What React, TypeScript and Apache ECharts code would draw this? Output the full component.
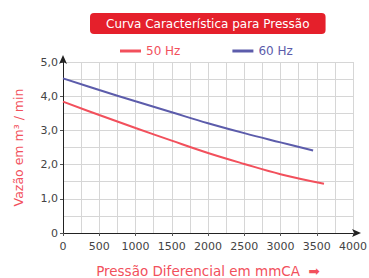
import React, { useEffect, useRef } from "react";
import * as echarts from "echarts";

const hz50X = [0, 500, 1000, 1500, 2000, 2500, 3000, 3600];
const hz50Y = [3.84, 3.45, 3.07, 2.7, 2.34, 2.02, 1.72, 1.44];
const hz60X = [0, 500, 1000, 1500, 2000, 2500, 3000, 3450];
const hz60Y = [4.52, 4.18, 3.85, 3.53, 3.21, 2.92, 2.65, 2.41];
const yTickLabels: Record<string, string> = { "0": "0", "1": "1,0", "2": "2,0", "3": "3,0", "4": "4,0", "5": "5,0" };

const RED = "#f2505c";
const BLUE = "#5c5cab";
const FONT = "DejaVu Sans, Verdana, sans-serif";
const GRID = "#d6d6d6";

export default function App() {
  const ref = useRef<HTMLDivElement>(null);
  useEffect(() => {
    const chart = echarts.init(ref.current!, null, { renderer: "svg" });
    chart.setOption({
      animation: false,
      backgroundColor: "#ffffff",
      textStyle: { fontFamily: FONT },
      title: {
        text: "Curva Característica para Pressão",
        left: 90,
        top: 13,
        backgroundColor: "#e5202b",
        borderRadius: 4,
        padding: [5, 16, 4, 16],
        textStyle: { color: "#ffffff", fontSize: 12, fontWeight: "normal", fontFamily: FONT },
      },
      legend: {
        top: 40,
        left: 115,
        itemGap: 52,
        itemWidth: 21,
        itemHeight: 3,
        icon: "rect",
        textStyle: { fontSize: 12, fontFamily: FONT },
        data: [
          { name: "50 Hz", textStyle: { color: RED } },
          { name: "60 Hz", textStyle: { color: BLUE } },
        ],
      },
      grid: { left: 63, top: 62, width: 290, height: 171, outerBoundsMode: "none", containLabel: false },
      xAxis: {
        type: "value",
        min: 0,
        max: 4000,
        interval: 500,
        name: "Pressão Diferencial em mmCA  ➡",
        nameLocation: "middle",
        nameGap: 31,
        nameTextStyle: { color: RED, fontSize: 13.5, fontFamily: FONT },
        axisLine: { show: true, lineStyle: { color: "#222", width: 1 }, symbol: ["none", "arrow"], symbolSize: [6, 9], symbolOffset: [0, 8] },
        axisTick: { show: true, length: 3, lineStyle: { color: "#555" } },
        axisLabel: { color: "#444", fontSize: 11, margin: 8, formatter: (v: number) => String(v) },
        splitLine: { show: true, lineStyle: { color: GRID, width: 1 } },
        minorTick: { show: false, splitNumber: 2 },
        minorSplitLine: { show: true, lineStyle: { color: GRID, width: 1 } },
      },
      yAxis: {
        type: "value",
        min: 0,
        max: 5,
        interval: 1,
        name: "Vazão em m³ / min",
        nameLocation: "middle",
        nameGap: 38,
        nameTextStyle: { color: RED, fontSize: 12.5, fontFamily: FONT },
        axisLine: { show: true, lineStyle: { color: "#222", width: 1 }, symbol: ["none", "arrow"], symbolSize: [6, 9], symbolOffset: [0, 7] },
        axisTick: { show: true, length: 3, lineStyle: { color: "#555" } },
        axisLabel: { color: "#444", fontSize: 11, margin: 5, formatter: (v: number) => yTickLabels[String(v)] ?? String(v) },
        splitLine: { show: true, lineStyle: { color: GRID, width: 1 } },
        minorTick: { show: false, splitNumber: 2 },
        minorSplitLine: { show: true, lineStyle: { color: GRID, width: 1 } },
      },
      series: [
        {
          name: "50 Hz",
          type: "line",
          smooth: 0.4,
          showSymbol: false,
          color: RED,
          lineStyle: { color: RED, width: 2 },
          data: hz50X.map((x, i) => [x, hz50Y[i]]),
        },
        {
          name: "60 Hz",
          type: "line",
          smooth: 0.4,
          showSymbol: false,
          color: BLUE,
          lineStyle: { color: BLUE, width: 2 },
          data: hz60X.map((x, i) => [x, hz60Y[i]]),
        },
      ],
    });
    return () => chart.dispose();
  }, []);
  return <div ref={ref} style={{ position: "fixed", left: 0, top: 0, width: 369, height: 278 }} />;
}
